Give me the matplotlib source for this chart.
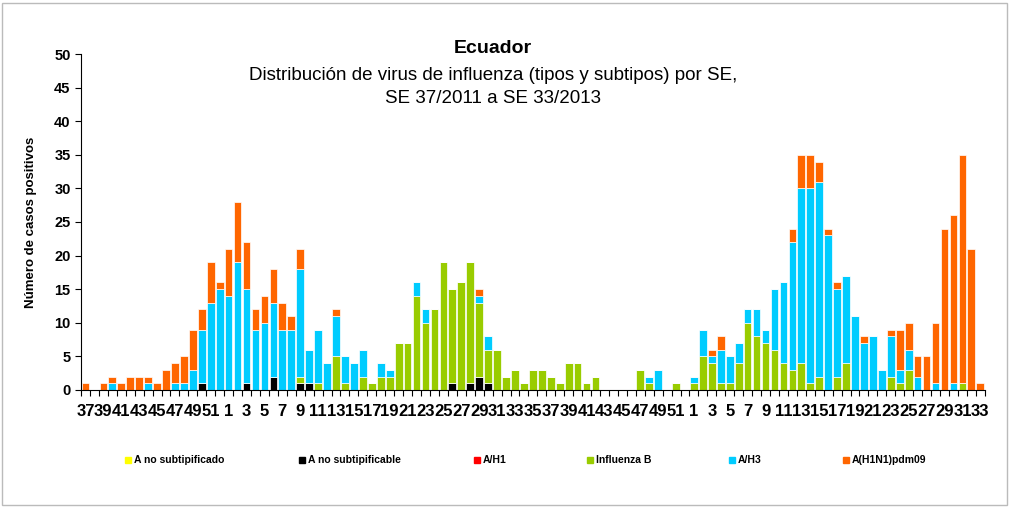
import numpy as np
import matplotlib
matplotlib.use('Agg')
import matplotlib.pyplot as plt
from matplotlib.patches import Rectangle

plt.rcParams['font.family'] = ['Liberation Sans', 'DejaVu Sans']

# semanas epidemiologicas: SE 37/2011 ... SE 33/2013
semanas = list(range(37, 53)) + list(range(1, 53)) + list(range(1, 34))

a_no_subtipificado = [0] * 101
a_h1 = [0] * 101

a_no_subtipificable = [0, 0, 0, 0, 0, 0, 0, 0, 0, 0, 0, 0, 0, 1, 0, 0,
                       0, 0, 1, 0, 0, 2, 0, 0, 1, 1, 0, 0, 0, 0, 0, 0, 0, 0, 0, 0,
                       0, 0, 0, 0, 0, 1, 0, 1, 2, 1, 0, 0, 0, 0, 0, 0, 0, 0, 0, 0,
                       0, 0, 0, 0, 0, 0, 0, 0, 0, 0, 0, 0,
                       0, 0, 0, 0, 0, 0, 0, 0, 0, 0, 0, 0, 0, 0, 0, 0, 0, 0, 0, 0,
                       0, 0, 0, 0, 0, 0, 0, 0, 0, 0, 0, 0, 0]

influenza_b = [0, 0, 0, 0, 0, 0, 0, 0, 0, 0, 0, 0, 0, 0, 0, 0,
               0, 0, 0, 0, 0, 0, 0, 0, 1, 0, 1, 0, 5, 1, 0, 2, 1, 2, 2, 7,
               7, 14, 10, 12, 19, 14, 16, 18, 11, 5, 6, 2, 3, 1, 3, 3, 2, 1, 4, 4,
               1, 2, 0, 0, 0, 0, 3, 1, 0, 0, 1, 0,
               1, 5, 4, 1, 1, 4, 10, 8, 7, 6, 4, 3, 4, 1, 2, 0, 2, 4, 0, 0,
               0, 0, 2, 1, 3, 0, 0, 0, 0, 0, 1, 0, 0]

a_h3 = [0, 0, 0, 1, 0, 0, 0, 1, 0, 0, 1, 1, 3, 8, 13, 15,
        14, 19, 14, 9, 10, 11, 9, 9, 16, 5, 8, 4, 6, 4, 4, 4, 0, 2, 1, 0,
        0, 2, 2, 0, 0, 0, 0, 0, 1, 2, 0, 0, 0, 0, 0, 0, 0, 0, 0, 0,
        0, 0, 0, 0, 0, 0, 0, 1, 3, 0, 0, 0,
        1, 4, 1, 5, 4, 3, 2, 4, 2, 9, 12, 19, 26, 29, 29, 23, 13, 13, 11, 7,
        8, 3, 6, 2, 3, 2, 0, 1, 0, 1, 0, 0, 0]

a_h1n1pdm09 = [1, 0, 1, 1, 1, 2, 2, 1, 1, 3, 3, 4, 6, 3, 6, 1,
               7, 9, 7, 3, 4, 5, 4, 2, 3, 0, 0, 0, 1, 0, 0, 0, 0, 0, 0, 0,
               0, 0, 0, 0, 0, 0, 0, 0, 1, 0, 0, 0, 0, 0, 0, 0, 0, 0, 0, 0,
               0, 0, 0, 0, 0, 0, 0, 0, 0, 0, 0, 0,
               0, 0, 1, 2, 0, 0, 0, 0, 0, 0, 0, 2, 5, 5, 3, 1, 1, 0, 0, 1,
               0, 0, 1, 6, 4, 3, 5, 9, 24, 25, 34, 21, 1]

series = [
    ('A no subtipificado', a_no_subtipificado, '#FFFF00'),
    ('A no subtipificable', a_no_subtipificable, '#000000'),
    ('A/H1', a_h1, '#FF0000'),
    ('Influenza B', influenza_b, '#99CC00'),
    ('A/H3', a_h3, '#00CCFF'),
    ('A(H1N1)pdm09', a_h1n1pdm09, '#FF6600'),
]

fig = plt.figure(figsize=(10.1, 5.08), dpi=100)
ax = fig.add_axes([0.0802, 0.2323, 0.8948, 0.6614])

x = np.arange(len(semanas))
bottom = np.zeros(len(semanas))
for nombre, vals, col in series:
    vals = np.array(vals)
    ax.bar(x, vals, 0.86, bottom=bottom, color=col, edgecolor='white', linewidth=0.5)
    bottom += vals

ax.set_xlim(-0.5, len(semanas) - 0.5)
ax.set_ylim(0, 50)
ax.set_yticks(range(0, 51, 5))
ax.set_xticks(x[::2])
ax.set_xticklabels([str(s) for s in semanas[::2]], fontsize=12, fontweight='bold')
ax.set_xticks(np.arange(-0.5, len(semanas), 1), minor=True)
ax.tick_params(axis='x', which='major', length=0, pad=10)
ax.tick_params(axis='x', which='minor', length=4, width=0.8, direction='out')
ax.tick_params(axis='y', length=4, width=0.8, labelsize=10.5)
for lbl in ax.get_yticklabels():
    lbl.set_fontweight('bold')
ax.spines['top'].set_visible(False)
ax.spines['right'].set_visible(False)
ax.set_ylabel('Número de casos positivos', fontsize=9.5, fontweight='bold', labelpad=12)

fig.text(0.488, 0.905, 'Ecuador', ha='center', va='center', fontsize=14, fontweight='bold')
fig.text(0.488, 0.852, 'Distribución de virus de influenza (tipos y subtipos) por SE,',
         ha='center', va='center', fontsize=13.5)
fig.text(0.488, 0.807, 'SE 37/2011 a SE 33/2013', ha='center', va='center', fontsize=13.5)

# leyenda
ley_x = [128, 302, 477, 590, 732, 846]
for (nombre, vals, col), px in zip(series, ley_x):
    fig.patches.append(Rectangle((px / 1010 - 0.003, 1 - 463 / 508), 0.006, 0.012,
                                 transform=fig.transFigure, color=col))
    fig.text(px / 1010 + 0.006, 1 - 460 / 508, nombre, ha='left', va='center',
             fontsize=7.5, fontweight='bold')

fig.patches.append(Rectangle((0.002, 0.005), 0.995, 0.99, transform=fig.transFigure,
                             fill=False, edgecolor='#BBBBBB', linewidth=1))

fig.savefig('out.png', dpi=100)
